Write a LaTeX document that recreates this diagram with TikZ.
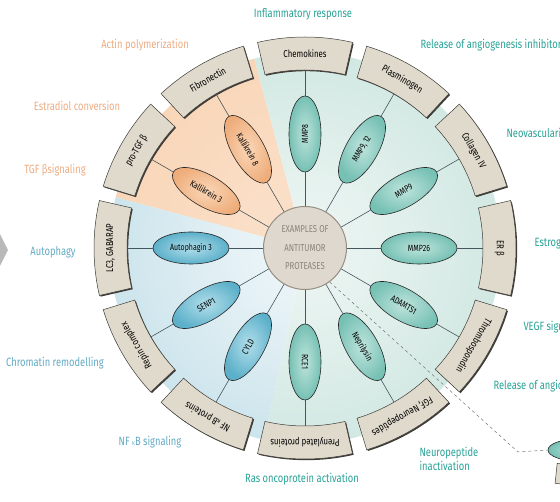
\documentclass[tikz,border=0pt]{standalone}
\usepackage{fontspec}
\setmainfont{Fira Sans}[FakeStretch=0.78]
\usetikzlibrary{shapes.geometric}

\definecolor{boxfill}{RGB}{224,218,204}
\definecolor{boxedge}{RGB}{62,60,56}
\definecolor{wire}{RGB}{70,86,94}
\definecolor{tealtxt}{RGB}{40,162,150}
\definecolor{orangetxt}{RGB}{236,172,130}
\definecolor{bluetxt}{RGB}{98,170,196}
\definecolor{tealbg}{RGB}{210,232,226}
\definecolor{bluebg}{RGB}{204,228,236}
\definecolor{orangebg}{RGB}{249,214,184}
\definecolor{hubfill}{RGB}{222,216,206}
\definecolor{hubtxt}{RGB}{138,132,122}

\begin{document}
\begin{tikzpicture}[x=1pt,y=1pt,
  protease/.style={ellipse, draw=black!85, line width=0.6pt, minimum width=76pt, minimum height=32pt, inner sep=0pt, font=\fontsize{9}{10}\selectfont},
  tealprot/.style={protease, inner color={rgb,255:red,190;green,228;blue,220}, outer color={rgb,255:red,118;green,192;blue,180}},
  blueprot/.style={protease, inner color={rgb,255:red,178;green,222;blue,234}, outer color={rgb,255:red,92;green,176;blue,202}},
  orangeprot/.style={protease, inner color={rgb,255:red,250;green,214;blue,182}, outer color={rgb,255:red,238;green,172;blue,122}},
  effect/.style={font=\fontsize{12}{14}\selectfont}]
\useasboundingbox (-305,-254) rectangle (255,248);

% coloured background wedges
\begin{scope}
  \clip (0,0) -- (105:196) arc[start angle=105, end angle=165, radius=196] -- cycle;
  \shade[inner color=orangebg!70!white, outer color=orangebg] (0,0) circle (196);
\end{scope}
\begin{scope}
  \clip (0,0) -- (165:196) arc[start angle=165, end angle=258, radius=196] -- cycle;
  \shade[inner color=bluebg!25!white, outer color=bluebg] (0,0) circle (196);
\end{scope}
\begin{scope}
  \clip (0,0) -- (-102:196) arc[start angle=-102, end angle=105, radius=196] -- cycle;
  \shade[inner color=tealbg!35!white, outer color=tealbg] (0,0) circle (196);
\end{scope}

\fill[gray!55] (-305,14) -- (-297,-2) -- (-305,-18) -- cycle;

% substrates on the outer ring
\foreach \a/\t [count=\i] in {90/Chemokines, 60/Plasminogen, 30/Collagen IV, 0/ER β, -30/Thrombospondin, -60/{FGF, Neuropeptides}, -90/Prenylated proteins, -120/{NF {\scriptsize κ}B proteins}, -150/Repin complex, 180/{LC3, GABARAP}, 150/pro-TGF β, 120/Fibronectin} {
  \fill[boxedge, xshift=1.2pt, yshift=-1.2pt] ({\a-13}:178) arc[start angle=\a-13, end angle=\a+13, radius=178] -- ({\a+13}:211) arc[start angle=\a+13, end angle=\a-13, radius=211] -- cycle;
  \filldraw[fill=boxfill, draw=boxedge, line width=0.5pt] ({\a-13}:178) arc[start angle=\a-13, end angle=\a+13, radius=178] -- ({\a+13}:211) arc[start angle=\a+13, end angle=\a-13, radius=211] -- cycle;
  \node[rotate=\a-90, font=\fontsize{10}{11}\selectfont, inner sep=1pt] (s\i) at (\a:194.5) {\t};
  \coordinate (si\i) at (\a:178);
}

\node[circle, draw={rgb,255:red,150;green,142;blue,130}, line width=1pt, fill=hubfill, minimum size=83pt, inner sep=0pt, align=center, text=hubtxt, font=\fontsize{10}{18.5}\selectfont] (hub) at (0,0) {EXAMPLES OF\\ANTITUMOR\\PROTEASES};

% proteases
\foreach \a/\t/\s/\r [count=\i] in {90/MMP8/tealprot/90, 60/{MMP9, 12}/tealprot/60, 30/MMP9/tealprot/30, 0/MMP26/tealprot/0, -30/ADAMTS1/tealprot/-30, -60/Neprilysin/tealprot/-60, -90/RCE1/tealprot/-90, -120/CYLD/blueprot/60, -150/SENP1/blueprot/30, 180/Autophagin 3/blueprot/0, 150/Kallikrein 3/orangeprot/-30, 120/Kallikrein 8/orangeprot/-60} {
  \node[\s, rotate=\r] (p\i) at (\a:114) {\t};
  \draw[wire, line width=0.6pt] (hub) -- (p\i) -- (si\i);
}

% effects of cleavage
\node[effect, text=tealtxt] (inflam) at (-2,234) {Inflammatory response};
\node[effect, text=tealtxt, anchor=west] (angio) at (112,203) {Release of angiogenesis inhibitors};
\node[effect, text=tealtxt, anchor=west] (neovasc) at (198,115) {Neovascularization};
\node[effect, text=tealtxt, anchor=west] (estrogen) at (226,5) {Estrogen signaling};
\node[effect, text=tealtxt, anchor=west] (vegf) at (215,-79) {VEGF signaling};
\node[effect, text=tealtxt, anchor=west] (angio2) at (185,-138) {Release of angiogenesis inhibitors};
\node[effect, text=tealtxt, anchor=west, align=left] (neuro) at (111,-211) {Neuropeptide\\inactivation};
\node[effect, text=tealtxt] (ras) at (-3,-231) {Ras oncoprotein activation};
\node[effect, text=bluetxt] (nfkb) at (-155,-194) {NF {\scriptsize κ}B signaling};
\node[effect, text=bluetxt] (chromatin) at (-250,-115) {Chromatin remodelling};
\node[effect, text=bluetxt] (autophagy) at (-252,-4) {Autophagy};
\node[effect, text=orangetxt] (tgfb) at (-250,78) {TGF βsignaling};
\node[effect, text=orangetxt] (estradiol) at (-228,142) {Estradiol conversion};
\node[effect, text=orangetxt] (actin) at (-160,203) {Actin polymerization};

% detail taken out of the hub
\node[tealprot, minimum width=60pt, minimum height=22pt] (zp) at (273,-202) {};
\node[draw=boxedge, fill=boxfill, line width=0.5pt, rotate=-6, minimum width=50pt, minimum height=20pt] (zb) at (276,-228) {};
\coordinate (kink) at (213,-204);
\draw[gray!90!black, dashed, dash pattern=on 3pt off 3pt, line width=0.5pt] (hub.-54) -- (kink) -- (zp.west);
\end{tikzpicture}
\end{document}
